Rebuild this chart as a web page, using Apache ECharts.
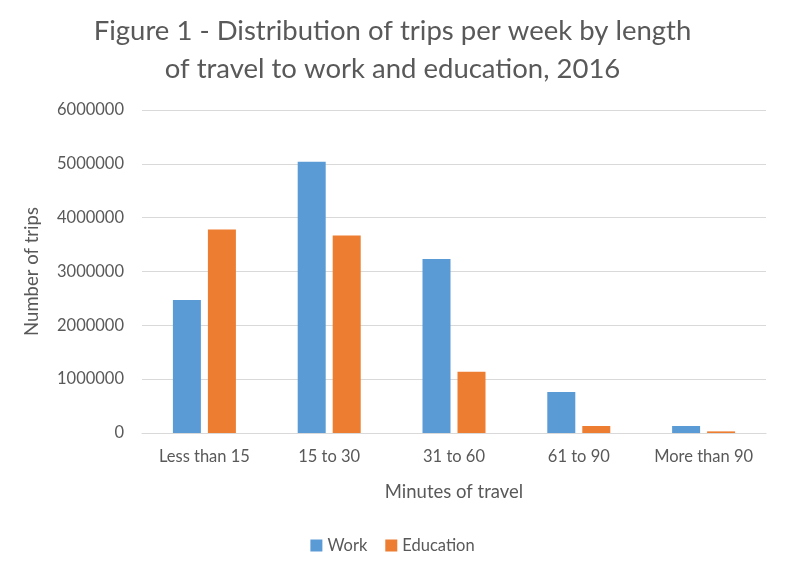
<!DOCTYPE html>
<html>
<head>
<meta charset="utf-8">
<script src="https://cdn.jsdelivr.net/npm/echarts@6/dist/echarts.min.js"></script>
<style>
  html, body { margin: 0; padding: 0; background: #fff; }
  #chart { width: 785px; height: 575px; }
</style>
</head>
<body>
<div id="chart"></div>
<script>
var categories = ["Less than 15", "15 to 30", "31 to 60", "61 to 90", "More than 90"];
var work = [2470000, 5040000, 3230000, 760000, 130000];
var education = [3780000, 3670000, 1140000, 130000, 30000];
var yTicks = [0, 1000000, 2000000, 3000000, 4000000, 5000000, 6000000];

var font = "Lato";
var textColor = "#595959";

var myChart = echarts.init(document.getElementById("chart"));
myChart.setOption({
  animation: false,
  title: {
    text: "Figure 1 - Distribution of trips per week by length\nof travel to work and education, 2016",
    left: "center",
    top: 7,
    textStyle: {
      fontFamily: font,
      fontSize: 27.5,
      fontWeight: "normal",
      color: textColor,
      lineHeight: 38
    }
  },
  legend: {
    bottom: 16,
    left: "center",
    itemWidth: 12,
    itemHeight: 12,
    itemGap: 18,
    icon: "rect",
    textStyle: { fontFamily: font, fontSize: 16.5, color: textColor }
  },
  grid: { left: 142, right: 19, top: 110, bottom: 142 },
  xAxis: {
    type: "category",
    data: categories,
    name: "Minutes of travel",
    nameLocation: "middle",
    nameGap: 50,
    nameTextStyle: { fontFamily: font, fontSize: 18.5, color: textColor },
    axisLine: { lineStyle: { color: "#D9D9D9" } },
    axisTick: { show: false },
    axisLabel: { interval: 0, fontFamily: font, fontSize: 16.5, color: textColor, margin: 15 }
  },
  yAxis: {
    type: "value",
    min: yTicks[0],
    max: yTicks[yTicks.length - 1],
    interval: yTicks[1] - yTicks[0],
    name: "Number of trips",
    nameLocation: "middle",
    nameGap: 100,
    nameTextStyle: { fontFamily: font, fontSize: 18.5, color: textColor },
    axisLabel: {
      fontFamily: font,
      fontSize: 16.5,
      color: textColor,
      margin: 18,
      formatter: function (v) { return String(v); }
    },
    splitLine: { lineStyle: { color: "#D9D9D9" } }
  },
  series: [
    {
      name: "Work",
      type: "bar",
      data: work,
      barWidth: 28,
      barGap: "25%",
      itemStyle: { color: "#5B9BD5" }
    },
    {
      name: "Education",
      type: "bar",
      data: education,
      barWidth: 28,
      itemStyle: { color: "#ED7D31" }
    }
  ]
});
</script>
</body>
</html>
